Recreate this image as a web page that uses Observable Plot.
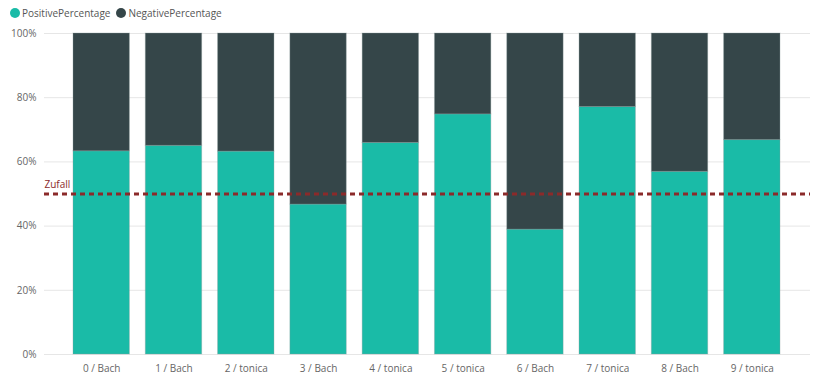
<!DOCTYPE html>
<html>
<head>
<meta charset="utf-8">
<script src="https://cdn.jsdelivr.net/npm/d3@7"></script>
<script src="https://cdn.jsdelivr.net/npm/@observablehq/plot@0.6"></script>
<style>
  html, body { margin: 0; padding: 0; background: #fff; }
  body { width: 816px; height: 379px; overflow: hidden; font-family: "Open Sans", "Noto Sans", sans-serif; }
  #legend { height: 25px; display: flex; align-items: center; padding-left: 10px; font-size: 10px; color: #555; }
  .item { display: flex; align-items: center; margin-right: 6px; }
  .dot { width: 10px; height: 10px; border-radius: 50%; margin-right: 2px; }
</style>
</head>
<body>
<div id="legend"></div>
<div id="chart"></div>
<script>
const categories = ["0 / Bach","1 / Bach","2 / tonica","3 / Bach","4 / tonica","5 / tonica","6 / Bach","7 / tonica","8 / Bach","9 / tonica"];
const positive = [63.3, 65.0, 63.2, 46.7, 65.9, 74.8, 38.9, 77.1, 56.9, 66.8];
const negative = positive.map(v => +(100 - v).toFixed(1));
const seriesNames = ["PositivePercentage", "NegativePercentage"];
const seriesColors = ["#1ABBA7", "#354649"];
const yTicks = [0, 20, 40, 60, 80, 100];
const refValue = 50;
const refLabel = "Zufall";

const legend = document.getElementById("legend");
seriesNames.forEach((n, i) => {
  const d = document.createElement("div");
  d.className = "item";
  d.innerHTML = `<span class="dot" style="background:${seriesColors[i]}"></span>${n}`;
  legend.appendChild(d);
});

const rows = [];
categories.forEach((c, i) => {
  rows.push({cat: c, series: seriesNames[0], value: positive[i]});
  rows.push({cat: c, series: seriesNames[1], value: negative[i]});
});

const chart = Plot.plot({
  width: 816,
  height: 354,
  marginTop: 8,
  marginBottom: 25,
  marginLeft: 44,
  marginRight: 6,
  style: {fontFamily: "'Open Sans', 'Noto Sans', sans-serif", fontSize: "10px", color: "#666"},
  x: {domain: categories, range: [73, 780], paddingInner: 0.22, paddingOuter: 0, round: false, align: 0.5, label: null},
  y: {domain: [0, 100], label: null},
  color: {domain: seriesNames, range: seriesColors},
  marks: [
    Plot.ruleY(yTicks, {stroke: "#e6e6e6", strokeWidth: 1}),
    Plot.barY(rows, {x: "cat", y: "value", fill: "series", stroke: "#8a9a9a", strokeOpacity: 0.35, strokeWidth: 1, order: seriesNames}),
    Plot.ruleY([refValue], {stroke: "#8B2A2A", strokeWidth: 3, strokeDasharray: "5,4"}),
    Plot.text([refLabel], {frameAnchor: "left", y: [refValue], dy: -6, dx: 0, textAnchor: "start", lineAnchor: "bottom", fill: "#8B2A2A", fontSize: 10}),
    Plot.axisX({tickSize: 0, tickPadding: 10, fill: "#666", label: null}),
    Plot.axisY({ticks: yTicks, tickFormat: d => d + "%", tickSize: 0, tickPadding: 8, fill: "#666", label: null})
  ]
});
document.getElementById("chart").appendChild(chart);
</script>
</body>
</html>
